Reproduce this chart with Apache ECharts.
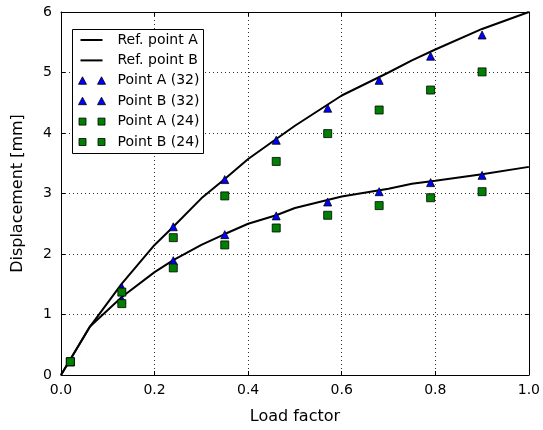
<!DOCTYPE html>
<html><head><meta charset="utf-8">
<script src="https://cdn.jsdelivr.net/npm/echarts@6/dist/echarts.min.js"></script>
<style>html,body{margin:0;padding:0;background:#fff}#c{width:543px;height:430px}</style>
</head><body><div id="c"></div>
<script>
var refX   = [0, 0.062, 0.13, 0.2, 0.24, 0.3, 0.35, 0.4, 0.46, 0.5, 0.6, 0.7, 0.75, 0.8, 0.9, 1.0];
var refA   = [0, 0.80, 1.51, 2.15, 2.45, 2.92, 3.24, 3.57, 3.90, 4.12, 4.62, 5.00, 5.20, 5.38, 5.72, 6.00];
var refB   = [0, 0.80, 1.29, 1.70, 1.90, 2.15, 2.33, 2.50, 2.64, 2.76, 2.95, 3.08, 3.16, 3.21, 3.32, 3.44];
var ptX    = [0.02, 0.13, 0.24, 0.35, 0.46, 0.57, 0.68, 0.79, 0.90];
var pA32   = [0.22, 1.45, 2.45, 3.23, 3.88, 4.41, 4.87, 5.27, 5.62];
var pB32   = [0.22, 1.25, 1.89, 2.32, 2.63, 2.86, 3.03, 3.18, 3.30];
var pA24   = [0.22, 1.37, 2.27, 2.96, 3.53, 3.99, 4.38, 4.71, 5.01];
var pB24   = [0.22, 1.18, 1.77, 2.15, 2.43, 2.64, 2.80, 2.93, 3.03];
var xTicks = ['0.0','0.2','0.4','0.6','0.8','1.0'];
var names  = ['Ref. point A','Ref. point B','Point A (32)','Point B (32)','Point A (24)','Point B (24)'];

function zip(xs, ys){ return xs.map(function(x,i){ return [x, ys[i]]; }); }

var FONT = 'DejaVu Sans';
var chart = echarts.init(document.getElementById('c'), null, {renderer:'canvas'});
var gridDash = {color:'#333', width:1, type:[1,3]};

function lineS(n, d){ return {name:n, type:'line', data:zip(refX,d), symbol:'none', lineStyle:{color:'#000', width:2}, z:2, animation:false}; }
function triS(n, d){ return {name:n, type:'scatter', data:zip(ptX,d), symbol:'triangle', symbolSize:8, itemStyle:{color:'#0000ff', borderColor:'#000', borderWidth:0.8, opacity:1}, z:3, animation:false}; }
function sqS(n, d){ return {name:n, type:'scatter', data:zip(ptX,d), symbol:'rect', symbolSize:8, itemStyle:{color:'#008000', borderColor:'#000', borderWidth:0.8, opacity:1}, z:4, animation:false}; }

// legend graphic
var lg = [];
var lx = 72.5, ly = 29.5, rowH = 20.4;
lg.push({type:'rect', shape:{x:lx, y:ly, width:131, height:124}, style:{fill:'#fff', stroke:'#000', lineWidth:1}, z:10});
for (var i=0;i<6;i++){
  var cy = ly + 10.5 + i*rowH;
  if (i<2){
    lg.push({type:'line', shape:{x1:lx+8, y1:cy, x2:lx+30, y2:cy}, style:{stroke:'#000', lineWidth:2}, z:11});
  } else if (i<4){
    [lx+10, lx+29].forEach(function(px){
      lg.push({type:'polygon', shape:{points:[[px,cy-4],[px+4,cy+3.5],[px-4,cy+3.5]]}, style:{fill:'#0000ff', stroke:'#000', lineWidth:0.8}, z:11});
    });
  } else {
    [lx+10, lx+29].forEach(function(px){
      lg.push({type:'rect', shape:{x:px-3.5, y:cy-3.5, width:7, height:7}, style:{fill:'#008000', stroke:'#000', lineWidth:0.8}, z:11});
    });
  }
  lg.push({type:'text', x:lx+45, y:cy, style:{text:names[i], font:'14px "DejaVu Sans"', fill:'#000', textVerticalAlign:'middle', verticalAlign:'middle'}, z:11});
}

chart.setOption({
  animation:false,
  grid:{left:61, right:12, top:12, bottom:55, containLabel:false},
  xAxis:[{
    type:'value', min:0, max:1, interval:0.2,
    name:'Load factor', nameLocation:'middle', nameGap:34,
    nameTextStyle:{fontFamily:FONT, fontSize:16, color:'#000'},
    axisLine:{show:true, onZero:false, lineStyle:{color:'#000', width:1}},
    axisTick:{show:true, inside:true, length:4, lineStyle:{color:'#000'}},
    axisLabel:{fontFamily:FONT, fontSize:14, color:'#000', margin:8, formatter:function(v){ return xTicks[Math.round(v/0.2)]; }},
    splitLine:{show:true, lineStyle:gridDash}
  },{
    type:'value', min:0, max:1, interval:0.2, position:'top',
    axisLine:{show:true, onZero:false, lineStyle:{color:'#000', width:1}},
    axisTick:{show:true, inside:true, length:4, lineStyle:{color:'#000'}},
    axisLabel:{show:false}, splitLine:{show:false}
  }],
  yAxis:[{
    type:'value', min:0, max:6, interval:1,
    name:'Displacement [mm]', nameLocation:'middle', nameGap:35, nameRotate:90,
    nameTextStyle:{fontFamily:FONT, fontSize:16, color:'#000'},
    axisLine:{show:true, onZero:false, lineStyle:{color:'#000', width:1}},
    axisTick:{show:true, inside:true, length:4, lineStyle:{color:'#000'}},
    axisLabel:{fontFamily:FONT, fontSize:14, color:'#000', margin:9},
    splitLine:{show:true, lineStyle:gridDash}
  },{
    type:'value', min:0, max:6, interval:1, position:'right',
    axisLine:{show:true, onZero:false, lineStyle:{color:'#000', width:1}},
    axisTick:{show:true, inside:true, length:4, lineStyle:{color:'#000'}},
    axisLabel:{show:false}, splitLine:{show:false}
  }],
  series:[
    lineS(names[0], refA), lineS(names[1], refB),
    triS(names[2], pA32), triS(names[3], pB32),
    sqS(names[4], pA24), sqS(names[5], pB24)
  ],
  graphic:lg
});
</script></body></html>
